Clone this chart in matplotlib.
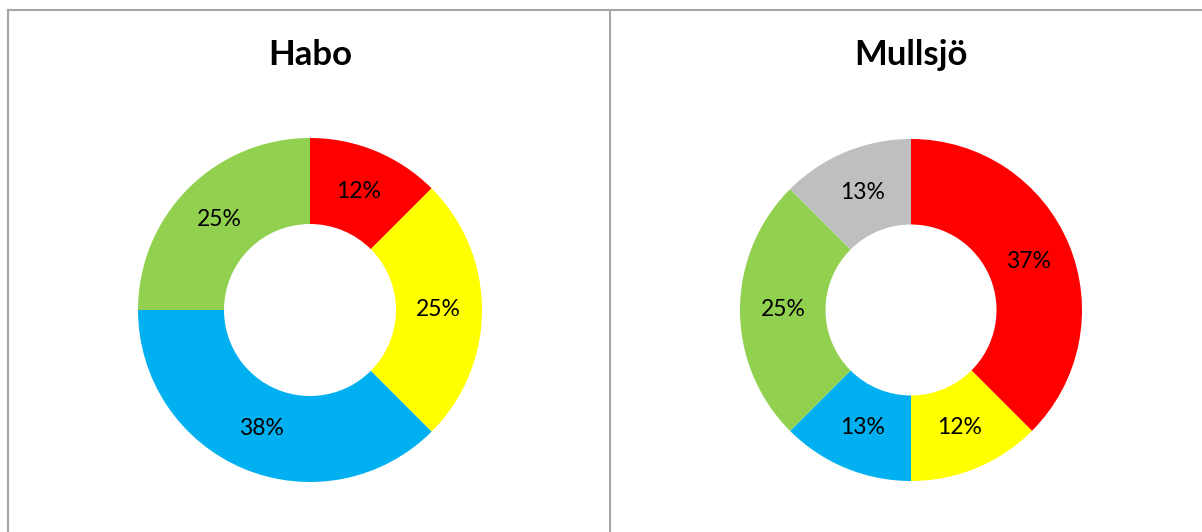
import matplotlib.pyplot as plt
from matplotlib.lines import Line2D

# data
habo_vals = [1, 2, 3, 2]
habo_labels = ['12%', '25%', '38%', '25%']
habo_colors = ['#FF0000', '#FFFF00', '#00B0F0', '#92D050']

mullsjo_vals = [3, 1, 1, 2, 1]
mullsjo_labels = ['37%', '12%', '13%', '25%', '13%']
mullsjo_colors = ['#FF0000', '#FFFF00', '#00B0F0', '#92D050', '#BFBFBF']

plt.rcParams['font.family'] = ['Lato', 'DejaVu Sans']

W, H = 1202, 532
fig = plt.figure(figsize=(W / 100, H / 100), dpi=100)
ax = fig.add_axes([0, 0, 1, 1])
ax.set_xlim(0, W)
ax.set_ylim(0, H)
ax.set_aspect('equal')
ax.axis('off')

def donut(vals, labels, colors, cx, cy, r, title):
    ax.pie(vals, labels=labels, colors=colors, center=(cx, cy), radius=r,
           startangle=90, counterclock=False, labeldistance=0.745,
           wedgeprops=dict(width=r * 0.5, linewidth=0),
           textprops=dict(fontsize=16.5, ha='center', va='center', color='black'))
    ax.text(cx, H - 55, title, fontsize=25, fontweight='bold',
            ha='center', va='center')

donut(habo_vals, habo_labels, habo_colors, 310, H - 310, 172, 'Habo')
donut(mullsjo_vals, mullsjo_labels, mullsjo_colors, 911, H - 310, 171, 'Mullsjö')
ax.set_xlim(0, W)
ax.set_ylim(0, H)

# panel borders
gc = '#A6A6A6'
fig.add_artist(Line2D([8 / W, 8 / W], [0, 1 - 10 / H], color=gc, lw=1.5))
fig.add_artist(Line2D([8 / W, 1], [1 - 10 / H, 1 - 10 / H], color=gc, lw=1.5))
fig.add_artist(Line2D([609.5 / W, 609.5 / W], [0, 1 - 10 / H], color=gc, lw=1.5))

fig.savefig('out.png', dpi=100)
